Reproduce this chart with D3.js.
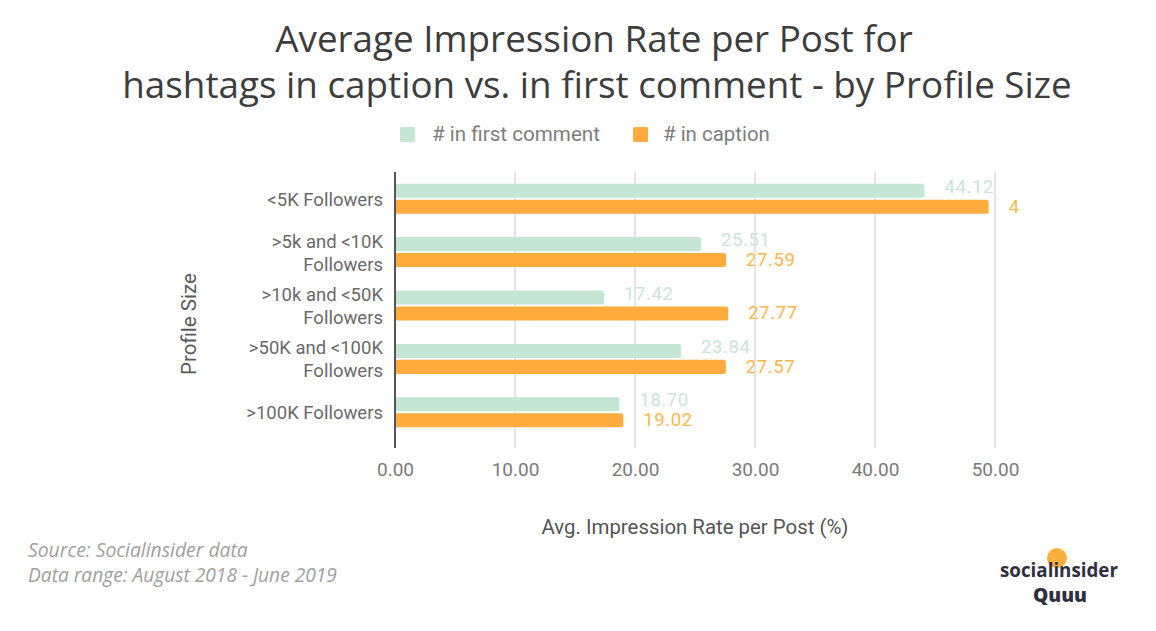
<!DOCTYPE html>
<html><head><meta charset="utf-8">
<script src="https://cdn.jsdelivr.net/npm/d3@7"></script>
<style>body{margin:0;background:#fff}svg{display:block}</style>
</head><body>
<svg id="c" width="1156" height="631"></svg>
<script>
const categories = [["<5K Followers"], [">5k and <10K","Followers"], [">10k and <50K","Followers"], [">50K and <100K","Followers"], [">100K Followers"]];
const seriesNames = ["# in first comment", "# in caption"];
const firstComment = [44.12, 25.51, 17.42, 23.84, 18.70];
const inCaption = [49.47, 27.59, 27.77, 27.57, 19.02];
const xTicks = [0, 10, 20, 30, 40, 50];
const colors = ["#c5e6d5", "#ffab3d"];
const labelColors = ["#c9e4d7", "#fdb64e"];

const svg = d3.select("#c");
const x = d3.scaleLinear().domain([0, 50]).range([395, 995]);
const y = d3.scaleBand().domain(d3.range(categories.length)).range([172, 439]);
const yi = d3.scaleBand().domain([0,1]).range([-15, 15]).paddingInner(0.12);

function fit(sel, w) {
  const n = sel.node(); const cur = parseFloat(sel.attr("font-size"));
  const len = n.getComputedTextLength(); sel.attr("font-size", cur * w / len);
}

// Title
const t1 = svg.append("text").attr("x", 594).attr("y", 52).attr("text-anchor","middle")
  .attr("font-family","Open Sans").attr("font-size",30).attr("fill","#3d3d3d")
  .text("Average Impression Rate per Post for");
const t2 = svg.append("text").attr("x", 597).attr("y", 98).attr("text-anchor","middle")
  .attr("font-family","Open Sans").attr("font-size",30).attr("fill","#3d3d3d")
  .text("hashtags in caption vs. in first comment - by Profile Size");
fit(t2, 950); t1.attr("font-size", t2.attr("font-size"));

// Legend
const leg = [[400, 432, 168], [633, 663, 107]];
seriesNames.forEach((s, i) => {
  svg.append("rect").attr("x", leg[i][0]).attr("y", 127).attr("width", 15).attr("height", 15).attr("rx",1.5).attr("fill", colors[i]);
  const lt = svg.append("text").attr("x", leg[i][1]).attr("y", 141).attr("font-family","Roboto").attr("font-size",17).attr("fill","#7d7d7d").text(s);
  fit(lt, leg[i][2]);
});

// gridlines
const [gy0, gy1] = [172, 448];
svg.append("g").selectAll("line").data(xTicks.slice(1)).join("line")
  .attr("x1", d => x(d)).attr("x2", d => x(d)).attr("y1", gy0).attr("y2", gy1)
  .attr("stroke", "#dcdcdc").attr("stroke-width", 1.5);

// x axis tick labels
const xa = svg.append("g").attr("transform", `translate(0,${gy1})`)
  .call(d3.axisBottom(x).tickValues(xTicks).tickFormat(d3.format(".2f")).tickSize(0).tickPadding(15));
xa.select(".domain").remove();
xa.selectAll("text").attr("font-family","Roboto").attr("font-size",19).attr("fill","#7a7a7a");

// bars
const series = [firstComment, inCaption];
series.forEach((vals, si) => {
  svg.append("g").selectAll("rect").data(vals).join("rect")
    .attr("x", x(0)).attr("y", (d, i) => y(i) + y.bandwidth()/2 + yi(si))
    .attr("width", d => x(d) - x(0)).attr("height", yi.bandwidth())
    .attr("rx", 2.5).attr("fill", colors[si]);
});

// value labels (clipped at chart edge)
svg.append("clipPath").attr("id","clip").append("rect").attr("x",0).attr("y",0).attr("width",1020).attr("height",631);
const lg = svg.append("g").attr("clip-path","url(#clip)");
series.forEach((vals, si) => {
  lg.append("g").selectAll("text").data(vals).join("text")
    .attr("x", d => x(d) + 20)
    .attr("y", (d, i) => y(i) + y.bandwidth()/2 + yi(si) + yi.bandwidth()/2 + (si ? 6 : 2))
    .attr("font-family","Roboto").attr("font-size",18.5).attr("letter-spacing", 0.6).attr("fill", labelColors[si])
    .text(d => d3.format(".2f")(d));
});

// y axis line
svg.append("line").attr("x1", x(0)).attr("x2", x(0)).attr("y1", gy0).attr("y2", gy1)
  .attr("stroke","#555").attr("stroke-width",2);

// category labels
categories.forEach((lines, i) => {
  const cy = y(i) + y.bandwidth()/2;
  const t = svg.append("text").attr("text-anchor","end").attr("font-family","Roboto").attr("font-size",18.5).attr("fill","#6a6a6a");
  lines.forEach((l, j) => {
    t.append("tspan").attr("x", 383).attr("y", cy + 7 + (j - (lines.length-1)/2) * 23).text(l);
  });
});

// axis titles
const pt = svg.append("text").attr("transform","translate(196,324) rotate(-90)").attr("text-anchor","middle")
  .attr("font-family","Roboto").attr("font-size",16).attr("fill","#5a5a5a").text("Profile Size");
fit(pt, 102);
const at = svg.append("text").attr("x", 695).attr("y", 534).attr("text-anchor","middle")
  .attr("font-family","Roboto").attr("font-size",16).attr("fill","#555").text("Avg. Impression Rate per Post (%)");
fit(at, 307);

// source
const s1 = svg.append("text").attr("x", 28).attr("y", 557).attr("font-family","Open Sans").attr("font-style","italic")
  .attr("font-size",14.5).attr("fill","#a0a0a0").text("Source: Socialinsider data");
fit(s1, 220);
const s2 = svg.append("text").attr("x", 28).attr("y", 582).attr("font-family","Open Sans").attr("font-style","italic")
  .attr("font-size",14.5).attr("fill","#a0a0a0").text("Data range: August 2018 - June 2019");
fit(s2, 309);

// logos
svg.append("circle").attr("cx", 1057).attr("cy", 558).attr("r", 10).attr("fill", "#fbb03b");
const l1 = svg.append("text").attr("x", 1059).attr("y", 577).attr("text-anchor","middle").attr("font-family","Open Sans")
  .attr("font-weight","bold").attr("font-size",16).attr("fill","#2f2f40").text("socialinsider");
fit(l1, 118);
const l2 = svg.append("text").attr("x", 1060).attr("y", 602).attr("text-anchor","middle").attr("font-family","Open Sans")
  .attr("font-weight","800").attr("font-size",19).attr("fill","#2f2f40").text("Quuu");
fit(l2, 54);
</script>
</body></html>
